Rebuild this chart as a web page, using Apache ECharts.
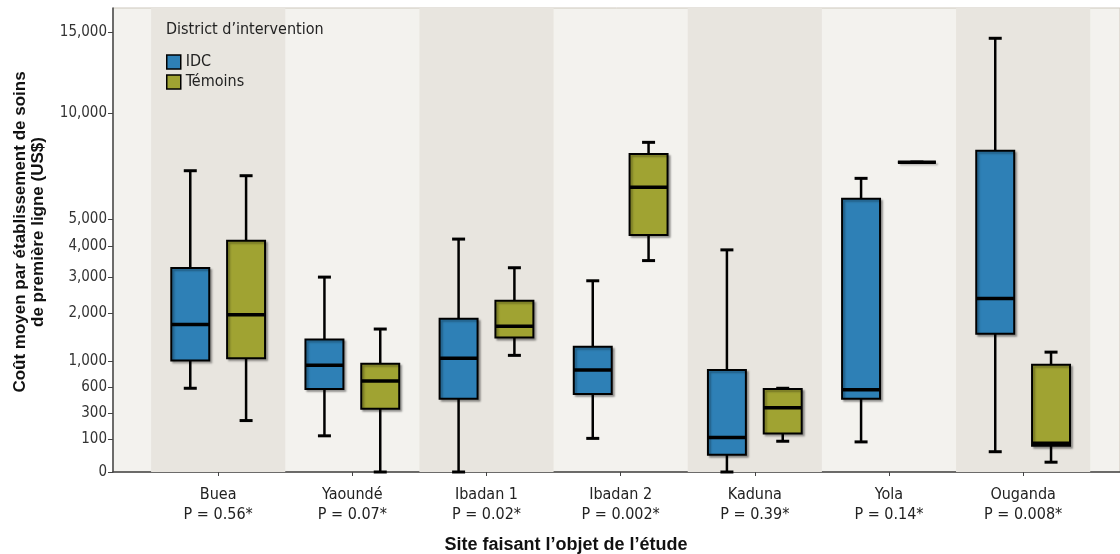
<!DOCTYPE html>
<html>
<head>
<meta charset="utf-8">
<script src="https://cdn.jsdelivr.net/npm/echarts@6/dist/echarts.min.js"></script>
<style>
  html, body { margin: 0; padding: 0; background: #fff; }
  #chart { width: 1120px; height: 554px; }
</style>
</head>
<body>
<div id="chart"></div>
<script>
const sites = ['Buea', 'Yaoundé', 'Ibadan 1', 'Ibadan 2', 'Kaduna', 'Yola', 'Ouganda'];
const pValues = ['P = 0.56*', 'P = 0.07*', 'P = 0.02*', 'P = 0.002*', 'P = 0.39*', 'P = 0.14*', 'P = 0.008*'];

// [min, Q1, median, Q3, max]
const idcBoxes = [
  [580, 1010, 1740, 3280, 7080],
  [120, 570, 925, 1410, 3000],
  [0, 450, 1050, 1870, 4260],
  [105, 505, 850, 1265, 2890],
  [0, 53, 110, 850, 3880],
  [92, 450, 560, 5840, 6730],
  [62, 1530, 2390, 8040, 14570]
];
const temoinsBoxes = [
  [230, 1050, 1970, 4200, 6850],
  [0, 340, 680, 950, 1635],
  [1100, 1450, 1700, 2330, 3290],
  [3520, 4410, 6330, 7880, 8460],
  [94, 135, 350, 570, 580],
  [7480, 7480, 7480, 7480, 7480],
  [30, 80, 88, 935, 1160]
];
const yTicks = [0, 100, 300, 600, 1000, 2000, 3000, 4000, 5000, 10000, 15000];
const shadedSites = [0, 2, 4, 6];

const narrow = "'DejaVu Sans Condensed', 'Liberation Sans Narrow', sans-serif";
const bold = "'Liberation Sans', Arial, sans-serif";
const colIDC = '#2e80b6';
const colTem = '#a0a332';

// square-root style scale of the original axis, linear below 100
function scaleY(v) {
  const k = 0.966;
  return v >= 100 ? Math.sqrt(v) - k : v / 100 * (10 - k);
}

const xMin = -0.784, xMax = 6.722;
const boxW = 0.283;
const shift = 0.208;

function boxRenderer(offset, color) {
  return function (params, api) {
    const x = api.value(0) + offset;
    const p = [1, 2, 3, 4, 5].map(i => api.coord([x, api.value(i)])[1]);
    const cx = api.coord([x, 0])[0];
    const w = api.size([boxW, 0])[0];
    const cap = 6.5;
    const line = { stroke: '#000', lineWidth: 2.5 };
    return {
      type: 'group',
      children: [
        { type: 'line', shape: { x1: cx, y1: p[3], x2: cx, y2: p[4] }, style: line },
        { type: 'line', shape: { x1: cx, y1: p[1], x2: cx, y2: p[0] }, style: line },
        { type: 'line', shape: { x1: cx - cap, y1: p[4], x2: cx + cap, y2: p[4] }, style: { stroke: '#000', lineWidth: 3 } },
        { type: 'line', shape: { x1: cx - cap, y1: p[0], x2: cx + cap, y2: p[0] }, style: { stroke: '#000', lineWidth: 3 } },
        {
          type: 'rect',
          shape: { x: cx - w / 2, y: p[3], width: w, height: p[1] - p[3] },
          style: {
            fill: color, stroke: '#000', lineWidth: 2,
            shadowBlur: 2, shadowOffsetX: 2, shadowOffsetY: 2, shadowColor: 'rgba(0,0,0,0.3)'
          }
        },
        { type: 'line', shape: { x1: cx - w / 2, y1: p[2], x2: cx + w / 2, y2: p[2] }, style: { stroke: '#000', lineWidth: 3.5 } }
      ]
    };
  };
}

const chart = echarts.init(document.getElementById('chart'));

const option = {
  animation: false,
  backgroundColor: '#fff',
  title: {
    text: 'District d’intervention',
    left: 166,
    top: 22,
    padding: 0,
    textStyle: { fontFamily: narrow, fontSize: 16, fontWeight: 'normal', color: '#222' }
  },
  legend: {
    orient: 'vertical',
    left: 166,
    top: 54,
    padding: 0,
    itemWidth: 14,
    itemHeight: 14,
    itemGap: 4,
    itemTextGap: 7,
    icon: 'rect',
    textStyle: { fontFamily: narrow, fontSize: 16, lineHeight: 14, color: '#222' },
    data: [
      { name: 'IDC', itemStyle: { color: colIDC, borderColor: '#000', borderWidth: 1.5 } },
      { name: 'Témoins', itemStyle: { color: colTem, borderColor: '#000', borderWidth: 1.5 } }
    ]
  },
  grid: {
    left: 113, right: -1, top: 8, bottom: 82,
    show: true, backgroundColor: '#f3f2ee', borderColor: '#cdc7bc', borderWidth: 1
  },
  xAxis: {
    type: 'value',
    min: xMin,
    max: xMax,
    splitLine: { show: false },
    axisLine: { onZero: false, lineStyle: { color: '#444', width: 1.5 } },
    axisTick: { customValues: sites.map((s, i) => i), length: 4, lineStyle: { color: '#444' } },
    axisLabel: {
      customValues: sites.map((s, i) => i),
      formatter: v => sites[Math.round(v)] + '\n' + pValues[Math.round(v)],
      fontFamily: narrow,
      fontSize: 16,
      lineHeight: 20,
      color: '#222',
      margin: 13
    }
  },
  yAxis: {
    type: 'value',
    min: 0,
    max: 128.1,
    splitLine: { show: false },
    axisLine: { show: true, onZero: false, lineStyle: { color: '#444', width: 1.5 } },
    axisTick: { show: true, customValues: yTicks.map(scaleY), length: 5, lineStyle: { color: '#444' } },
    axisLabel: {
      customValues: yTicks.map(scaleY),
      formatter: v => {
        const t = yTicks.find(k => Math.abs(scaleY(k) - v) < 1e-3);
        return t === undefined ? '' : t.toLocaleString('en-US');
      },
      fontFamily: narrow,
      fontSize: 15,
      color: '#333',
      margin: 6
    }
  },
  graphic: [
    {
      type: 'text',
      x: 29,
      y: 232,
      rotation: Math.PI / 2,
      style: {
        text: 'Coût moyen par établissement de soins\nde première ligne (US$)',
        font: 'bold 17px ' + bold,
        fill: '#111',
        align: 'center',
        verticalAlign: 'middle',
        lineHeight: 18
      }
    },
    {
      type: 'text',
      x: 566,
      y: 545,
      style: {
        text: 'Site faisant l’objet de l’étude',
        font: 'bold 18px ' + bold,
        fill: '#111',
        align: 'center',
        verticalAlign: 'middle'
      }
    }
  ],
  series: [
    {
      name: 'IDC',
      type: 'custom',
      z: 3,
      itemStyle: { color: colIDC },
      data: idcBoxes.map((b, i) => [i].concat(b.map(scaleY))),
      encode: { x: 0, y: [1, 2, 3, 4, 5] },
      renderItem: boxRenderer(-shift, colIDC),
      markArea: {
        silent: true,
        itemStyle: { color: '#e8e5df' },
        data: shadedSites.map(i => [{ xAxis: i - 0.5, yAxis: 0 }, { xAxis: i + 0.5, yAxis: 128.1 }])
      }
    },
    {
      name: 'Témoins',
      type: 'custom',
      z: 3,
      itemStyle: { color: colTem },
      data: temoinsBoxes.map((b, i) => [i].concat(b.map(scaleY))),
      encode: { x: 0, y: [1, 2, 3, 4, 5] },
      renderItem: boxRenderer(shift, colTem)
    }
  ]
};

chart.setOption(option);
</script>
</body>
</html>
